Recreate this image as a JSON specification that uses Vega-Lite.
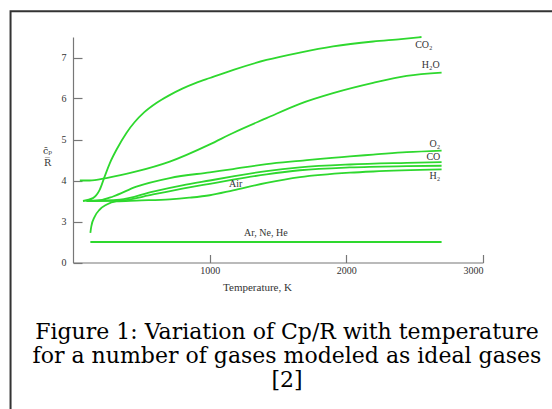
{
  "$schema": "https://vega.github.io/schema/vega-lite/v6.json",
  "width": 410,
  "height": 225.5,
  "autosize": {"type": "none"},
  "padding": {"left": 73, "top": 37, "right": 69, "bottom": 146.5},
  "background": "white",
  "config": {"view": {"stroke": null}, "font": "Liberation Serif"},
  "title": {
    "text": ["Figure 1: Variation of Cp/R with temperature", "for a number of gases modeled as ideal gases", "[2]"],
    "orient": "bottom",
    "anchor": "middle",
    "frame": "group",
    "font": "DejaVu Serif",
    "fontSize": 22,
    "fontWeight": "normal",
    "color": "#000000",
    "lineHeight": 24,
    "baseline": "top",
    "offset": 0,
    "dy": -94,
    "dx": 9
  },
  "datasets": {
    "curves": [
      {"gas": "CO2", "T": 73, "v": 3.5}, {"gas": "CO2", "T": 146, "v": 3.57}, {"gas": "CO2", "T": 195, "v": 3.77}, {"gas": "CO2", "T": 232, "v": 4.10}, {"gas": "CO2", "T": 269, "v": 4.42}, {"gas": "CO2", "T": 318, "v": 4.75}, {"gas": "CO2", "T": 391, "v": 5.16}, {"gas": "CO2", "T": 450, "v": 5.42}, {"gas": "CO2", "T": 520, "v": 5.66}, {"gas": "CO2", "T": 610, "v": 5.89}, {"gas": "CO2", "T": 700, "v": 6.07}, {"gas": "CO2", "T": 800, "v": 6.24}, {"gas": "CO2", "T": 900, "v": 6.38}, {"gas": "CO2", "T": 1001, "v": 6.50}, {"gas": "CO2", "T": 1174, "v": 6.70}, {"gas": "CO2", "T": 1416, "v": 6.94}, {"gas": "CO2", "T": 1660, "v": 7.12}, {"gas": "CO2", "T": 1903, "v": 7.27}, {"gas": "CO2", "T": 2196, "v": 7.39}, {"gas": "CO2", "T": 2400, "v": 7.45}, {"gas": "CO2", "T": 2550, "v": 7.50},
      {"gas": "H2O", "T": 50, "v": 4.0}, {"gas": "H2O", "T": 122, "v": 4.0}, {"gas": "H2O", "T": 244, "v": 4.06}, {"gas": "H2O", "T": 464, "v": 4.22}, {"gas": "H2O", "T": 708, "v": 4.46}, {"gas": "H2O", "T": 1001, "v": 4.88}, {"gas": "H2O", "T": 1171, "v": 5.16}, {"gas": "H2O", "T": 1416, "v": 5.52}, {"gas": "H2O", "T": 1660, "v": 5.87}, {"gas": "H2O", "T": 1903, "v": 6.13}, {"gas": "H2O", "T": 2196, "v": 6.38}, {"gas": "H2O", "T": 2441, "v": 6.55}, {"gas": "H2O", "T": 2697, "v": 6.63},
      {"gas": "O2", "T": 100, "v": 3.5}, {"gas": "O2", "T": 200, "v": 3.52}, {"gas": "O2", "T": 293, "v": 3.61}, {"gas": "O2", "T": 464, "v": 3.85}, {"gas": "O2", "T": 708, "v": 4.06}, {"gas": "O2", "T": 1001, "v": 4.20}, {"gas": "O2", "T": 1171, "v": 4.28}, {"gas": "O2", "T": 1416, "v": 4.40}, {"gas": "O2", "T": 1660, "v": 4.48}, {"gas": "O2", "T": 2026, "v": 4.59}, {"gas": "O2", "T": 2196, "v": 4.63}, {"gas": "O2", "T": 2441, "v": 4.69}, {"gas": "O2", "T": 2697, "v": 4.73},
      {"gas": "CO", "T": 100, "v": 3.5}, {"gas": "CO", "T": 342, "v": 3.53}, {"gas": "CO", "T": 586, "v": 3.73}, {"gas": "CO", "T": 800, "v": 3.88}, {"gas": "CO", "T": 1001, "v": 4.00}, {"gas": "CO", "T": 1171, "v": 4.10}, {"gas": "CO", "T": 1416, "v": 4.23}, {"gas": "CO", "T": 1660, "v": 4.32}, {"gas": "CO", "T": 2026, "v": 4.39}, {"gas": "CO", "T": 2441, "v": 4.43}, {"gas": "CO", "T": 2697, "v": 4.45},
      {"gas": "Air", "T": 100, "v": 3.5}, {"gas": "Air", "T": 342, "v": 3.51}, {"gas": "Air", "T": 586, "v": 3.66}, {"gas": "Air", "T": 800, "v": 3.80}, {"gas": "Air", "T": 1001, "v": 3.92}, {"gas": "Air", "T": 1171, "v": 4.02}, {"gas": "Air", "T": 1416, "v": 4.15}, {"gas": "Air", "T": 1660, "v": 4.25}, {"gas": "Air", "T": 2026, "v": 4.32}, {"gas": "Air", "T": 2441, "v": 4.35}, {"gas": "Air", "T": 2697, "v": 4.36},
      {"gas": "H2", "T": 127, "v": 2.72}, {"gas": "H2", "T": 134, "v": 2.88}, {"gas": "H2", "T": 159, "v": 3.12}, {"gas": "H2", "T": 195, "v": 3.29}, {"gas": "H2", "T": 244, "v": 3.41}, {"gas": "H2", "T": 318, "v": 3.49}, {"gas": "H2", "T": 464, "v": 3.51}, {"gas": "H2", "T": 708, "v": 3.54}, {"gas": "H2", "T": 850, "v": 3.58}, {"gas": "H2", "T": 1001, "v": 3.64}, {"gas": "H2", "T": 1171, "v": 3.76}, {"gas": "H2", "T": 1416, "v": 3.94}, {"gas": "H2", "T": 1660, "v": 4.08}, {"gas": "H2", "T": 2026, "v": 4.19}, {"gas": "H2", "T": 2196, "v": 4.22}, {"gas": "H2", "T": 2697, "v": 4.27},
      {"gas": "Ar", "T": 127, "v": 2.5}, {"gas": "Ar", "T": 2697, "v": 2.5}
    ],
    "labels": [
      {"label": "CO₂", "T": 2567, "v": 7.31},
      {"label": "H₂O", "T": 2618, "v": 6.82},
      {"label": "O₂", "T": 2648, "v": 4.89},
      {"label": "CO", "T": 2637, "v": 4.57},
      {"label": "H₂", "T": 2648, "v": 4.12},
      {"label": "Air", "T": 1191, "v": 3.91},
      {"label": "Ar, Ne, He", "T": 1411, "v": 2.72}
    ],
    "frame": [
      {"T": -457, "T2": 4200, "v": 8.13, "v2": -1.715}
    ]
  },
  "layer": [
    {
      "data": {"name": "frame"},
      "mark": {"type": "rect", "fill": null, "stroke": "#333333", "strokeWidth": 2, "clip": false},
      "encoding": {
        "x": {"field": "T", "type": "quantitative", "scale": {"domain": [0, 3000], "nice": false, "zero": false}},
        "x2": {"field": "T2"},
        "y": {"field": "v", "type": "quantitative", "scale": {"domain": [2, 7.5], "nice": false, "zero": false}},
        "y2": {"field": "v2"}
      }
    },
    {
      "data": {"name": "curves"},
      "mark": {"type": "line", "interpolate": "monotone", "strokeWidth": 1.8, "color": "#2ed82e"},
      "encoding": {
        "x": {
          "field": "T", "type": "quantitative",
          "scale": {"domain": [0, 3000], "nice": false, "zero": false},
          "axis": {
            "values": [1000, 2000, 3000], "format": "d", "grid": false,
            "tickSize": -8, "tickColor": "#777777", "domainColor": "#777777", "domainWidth": 1.2, "tickWidth": 1.2,
            "labelColor": "#333333", "labelFontSize": 10, "labelFont": "Liberation Serif", "labelPadding": 11,
            "title": "Temperature, K", "titleFont": "Liberation Serif", "titleFontSize": 11, "titleFontWeight": "normal", "titleColor": "#333333",
            "titleX": 184, "titlePadding": 6
          }
        },
        "y": {
          "field": "v", "type": "quantitative",
          "scale": {"domain": [2, 7.5], "nice": false, "zero": false},
          "axis": {
            "values": [2, 2.5, 3, 3.5, 4, 4.5, 5, 5.5, 6, 6.5, 7, 7.5],
            "labelExpr": "datum.value == 2 ? '0' : (datum.value % 1 == 0 ? datum.label : '')",
            "grid": false, "tickSize": -9, "tickColor": "#777777", "domainColor": "#777777", "domainWidth": 1.2, "tickWidth": 1.2,
            "labelColor": "#333333", "labelFontSize": 10, "labelFont": "Liberation Serif", "labelPadding": 16,
            "title": ["c̄ₚ", "R̅"], "titleAngle": 0, "titleFont": "DejaVu Serif", "titleFontSize": 9.5, "titleFontWeight": "normal", "titleColor": "#333333",
            "titleLineHeight": 12, "titleX": -26, "titleY": 113, "titleAlign": "center", "titleBaseline": "middle"
          }
        },
        "detail": {"field": "gas"}
      }
    },
    {
      "data": {"name": "labels"},
      "mark": {"type": "text", "font": "Liberation Serif", "fontSize": 10, "color": "#333333", "align": "center", "baseline": "middle"},
      "encoding": {
        "x": {"field": "T", "type": "quantitative", "scale": {"domain": [0, 3000], "nice": false, "zero": false}},
        "y": {"field": "v", "type": "quantitative", "scale": {"domain": [2, 7.5], "nice": false, "zero": false}},
        "text": {"field": "label"}
      }
    }
  ]
}
